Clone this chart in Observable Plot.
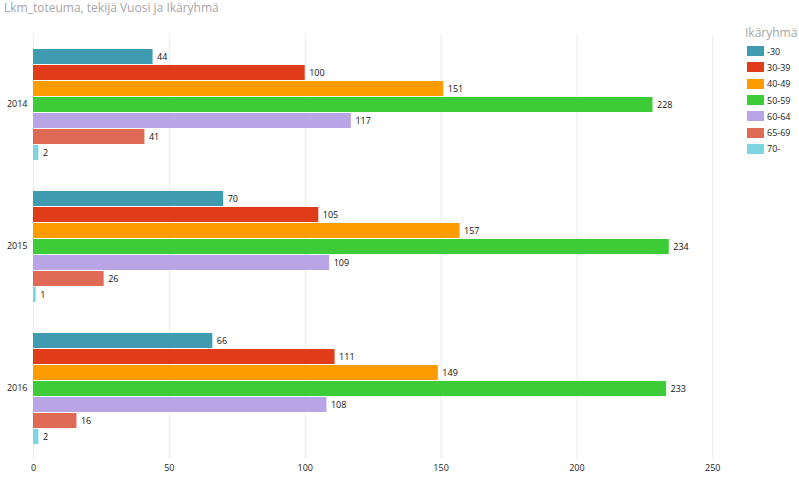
<!DOCTYPE html>
<html>
<head>
<meta charset="utf-8">
<script src="https://cdn.jsdelivr.net/npm/d3@7"></script>
<script src="https://cdn.jsdelivr.net/npm/@observablehq/plot@0.6"></script>
<style>
  body { margin: 0; background: #fff; font-family: "Open Sans", "Noto Sans", sans-serif; }
  #wrap { position: relative; width: 799px; height: 486px; overflow: hidden; }
  #title { position: absolute; left: 4px; top: 0px; font-size: 12px; color: #a6a6a6; line-height: 16px; white-space: nowrap; }
  #chart { position: absolute; left: 0; top: 20px; }
  #legend { position: absolute; left: 745px; top: 25px; }
  #legend .lt { font-size: 12px; color: #a6a6a6; line-height: 16px; margin-bottom: 2px; }
  #legend .row { display: flex; align-items: center; height: 16.3px; }
  #legend .sw { width: 17px; height: 10px; margin-left: 2px; margin-right: 3px; }
  #legend .lab { font-size: 9px; color: #222; }
</style>
</head>
<body>
<div id="wrap">
  <div id="title">Lkm_toteuma, tekijä Vuosi ja Ikäryhmä</div>
  <div id="chart"></div>
  <div id="legend"></div>
</div>
<script>
const years = ["2014", "2015", "2016"];
const groups = ["-30", "30-39", "40-49", "50-59", "60-64", "65-69", "70-"];
const values2014 = [44, 100, 151, 228, 117, 41, 2];
const values2015 = [70, 105, 157, 234, 109, 26, 1];
const values2016 = [66, 111, 149, 233, 108, 16, 2];
const colors = ["#3e9bb0", "#e03c1a", "#fd9c00", "#3dcb37", "#b9a5e5", "#df6a56", "#7dd5e0"];
const xTicks = [0, 50, 100, 150, 200, 250];
const legendTitle = "Ikäryhmä";

const byYear = [values2014, values2015, values2016];
const data = years.flatMap((y, i) => groups.map((g, j) => ({year: y, group: g, value: byYear[i][j]})));

const chart = Plot.plot({
  width: 799,
  height: 466,
  marginTop: 13,
  marginBottom: 27,
  marginLeft: 33,
  marginRight: 65,
  style: {fontFamily: "'Open Sans', 'Noto Sans', sans-serif", fontSize: "9px", color: "#222", background: "transparent"},
  x: {domain: [0, 258], ticks: xTicks, label: null, tickSize: 0, tickPadding: 19, tickFormat: d => String(d)},
  y: {domain: groups, axis: null, paddingInner: 0.07, paddingOuter: 0.0},
  fy: {domain: years, paddingInner: 0.2, paddingOuter: 0.1, label: null, tickSize: 0, tickPadding: 6, axis: "left"},
  color: {domain: groups, range: colors},
  marks: [
    Plot.ruleX(xTicks, {x: d => d, stroke: "#ececec", strokeWidth: 1, insetTop: -14, insetBottom: -14}),
    Plot.barX(data, {x: "value", y: "group", fy: "year", fill: "group"}),
    Plot.text(data, {x: "value", y: "group", fy: "year", text: d => String(d.value), dx: 4, textAnchor: "start", fill: "#111", fontSize: 9})
  ]
});
document.getElementById("chart").appendChild(chart);

const legend = document.getElementById("legend");
const lt = document.createElement("div");
lt.className = "lt";
lt.textContent = legendTitle;
legend.appendChild(lt);
groups.forEach((g, i) => {
  const row = document.createElement("div");
  row.className = "row";
  const sw = document.createElement("div");
  sw.className = "sw";
  sw.style.background = colors[i];
  const lab = document.createElement("span");
  lab.className = "lab";
  lab.textContent = g;
  row.appendChild(sw);
  row.appendChild(lab);
  legend.appendChild(row);
});
</script>
</body>
</html>
